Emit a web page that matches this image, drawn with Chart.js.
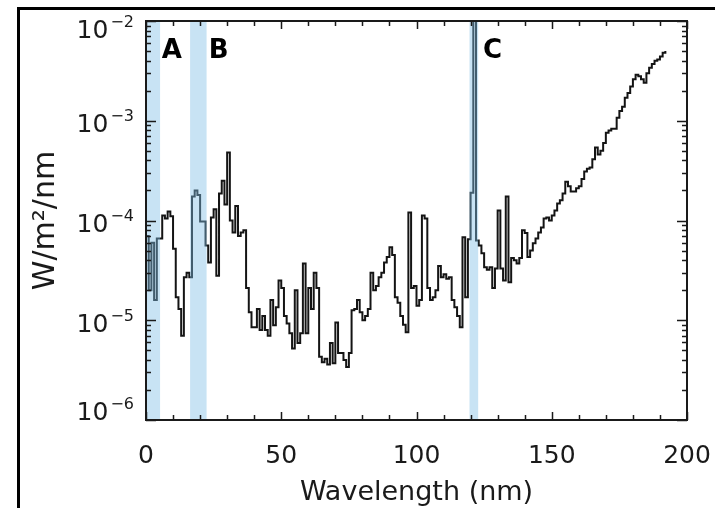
<!DOCTYPE html>
<html>
<head>
<meta charset="utf-8">
<title>Solar spectral irradiance</title>
<script src="https://cdn.jsdelivr.net/npm/chart.js@4.4.1/dist/chart.umd.min.js"></script>
<style>
  html, body { margin: 0; padding: 0; background: #fff; }
  canvas { display: block; }
</style>
</head>
<body>
<canvas id="spectrum" width="715" height="508"></canvas>
<script>
// irradiance per 1 nm bin (W/m^2/nm), bin i covers i..i+1 nm
const flux = [
  7e-5, 2e-5, 6e-5, 1.6e-5, 6.6e-5, 6.6e-5, 1.12e-4, 1.05e-4, 1.23e-4, 1.1e-4,
  5.2e-5, 1.7e-5, 1.3e-5, 7e-6, 2.7e-5, 3e-5, 2.7e-5, 1.74e-4, 2e-4, 1.8e-4,
  9.8e-5, 9.8e-5, 5.6e-5, 3.8e-5, 1.07e-4, 1.3e-4, 2.8e-5, 1.86e-4, 2.5e-4, 1.45e-4,
  4.8e-4, 1e-4, 7.6e-5, 1.4e-4, 7e-5, 7.6e-5, 8e-5, 2.1e-5, 1.2e-5, 8.5e-6,
  8.5e-6, 1.3e-5, 8e-6, 1.1e-5, 8e-6, 7e-6, 1.6e-5, 8.9e-6, 1.35e-5, 2.5e-5,
  2.1e-5, 1.1e-5, 9.3e-6, 7.4e-6, 5.2e-6, 2e-5, 5.9e-6, 7.4e-6, 3.7e-5, 7.4e-6,
  2.1e-5, 1.3e-5, 3e-5, 2.1e-5, 4.3e-6, 3.8e-6, 4.1e-6, 3.6e-6, 5.9e-6, 3.7e-6,
  9.5e-6, 4.7e-6, 4.7e-6, 4e-6, 3.4e-6, 4.7e-6, 1.26e-5, 1.3e-5, 1.6e-5, 1.2e-5,
  1e-5, 1.1e-5, 1.3e-5, 3e-5, 2e-5, 2.2e-5, 2.7e-5, 3e-5, 3.8e-5, 4.3e-5,
  5.4e-5, 4.5e-5, 1.7e-5, 1.5e-5, 1.1e-5, 9e-6, 7.6e-6, 1.2e-4, 2.1e-5, 2.2e-5,
  1.4e-5, 1.6e-5, 1.12e-4, 1.05e-4, 2.1e-5, 1.6e-5, 1.7e-5, 2e-5, 3.5e-5, 2.7e-5,
  2.9e-5, 2.6e-5, 2.7e-5, 1.6e-5, 1.35e-5, 1.1e-5, 8.5e-6, 6.8e-5, 1.7e-5, 6.5e-5,
  1.9e-4, 1e-2, 6.3e-5, 5.6e-5, 4.7e-5, 3.4e-5, 3.2e-5, 3.4e-5, 2.1e-5, 3.3e-5,
  1.26e-4, 3.3e-5, 2.5e-5, 1.74e-4, 2.4e-5, 4.2e-5, 4e-5, 3.7e-5, 4.2e-5, 8e-5,
  7.5e-5, 4.3e-5, 5e-5, 5.9e-5, 6.6e-5, 7.6e-5, 8.5e-5, 1.05e-4, 1.07e-4, 1e-4,
  1.12e-4, 1.26e-4, 1.48e-4, 1.6e-4, 1.86e-4, 2.45e-4, 2.2e-4, 1.95e-4, 1.95e-4, 2.1e-4,
  2.2e-4, 2.6e-4, 3.1e-4, 3.3e-4, 3.4e-4, 4.1e-4, 5.4e-4, 4.6e-4, 5e-4, 6e-4,
  7.6e-4, 8e-4, 8.3e-4, 8.3e-4, 1.07e-3, 1.25e-3, 1.38e-3, 1.7e-3, 1.9e-3, 2.2e-3,
  2.6e-3, 2.9e-3, 2.8e-3, 2.6e-3, 2.4e-3, 3e-3, 3.4e-3, 3.7e-3, 4e-3, 4.1e-3,
  4.4e-3, 4.8e-3, 5e-3
];
const wavelength = flux.map((v, i) => i); // bin start, nm

// shaded regions
const bandNames = ['A', 'B', 'C'];
const bandStart = [0, 16.3, 119.6];
const bandEnd = [5.2, 22.4, 122.8];
const bandLabelAt = [5.8, 23.2, 124.6];
const bandLabelFlux = 4.3e-3;

const xTicks = [0, 50, 100, 150, 200];
const yTickExp = [-6, -5, -4, -3, -2];

const FONT = '"DejaVu Sans", sans-serif';

const frame = {
  id: 'frame',
  beforeDraw(chart) {
    const ctx = chart.ctx;
    ctx.save();
    ctx.fillStyle = '#000';
    ctx.fillRect(17, 7, chart.width - 17, 3);
    ctx.fillRect(17, 7, 3, chart.height - 7);
    ctx.restore();
  },
  afterDatasetsDraw(chart) {
    const ctx = chart.ctx, x = chart.scales.x, y = chart.scales.y, a = chart.chartArea;
    ctx.save();
    ctx.fillStyle = 'rgba(128, 190, 230, 0.43)';
    bandStart.forEach((s, i) => {
      const x0 = x.getPixelForValue(s), x1 = x.getPixelForValue(bandEnd[i]);
      ctx.fillRect(x0, a.top, x1 - x0, a.bottom - a.top);
    });
    ctx.fillStyle = '#000';
    ctx.font = 'bold 26px ' + FONT;
    ctx.textAlign = 'left';
    ctx.textBaseline = 'alphabetic';
    bandNames.forEach((n, i) => {
      ctx.fillText(n, x.getPixelForValue(bandLabelAt[i]), y.getPixelForValue(bandLabelFlux));
    });
    ctx.restore();
  },
  afterDraw(chart) {
    const ctx = chart.ctx, x = chart.scales.x, y = chart.scales.y, a = chart.chartArea;
    ctx.save();
    ctx.strokeStyle = '#1a1a1a';
    ctx.lineWidth = 2;
    ctx.strokeRect(a.left, a.top, a.right - a.left, a.bottom - a.top);

    ctx.lineWidth = 1.5;
    ctx.beginPath();
    // x ticks, every 10 nm, major at 50
    for (let w = 0; w <= 200; w += 10) {
      const px = Math.round(x.getPixelForValue(w)) + 0.5;
      const len = w % 50 === 0 ? 8 : 5;
      ctx.moveTo(px, a.bottom); ctx.lineTo(px, a.bottom - len);
      ctx.moveTo(px, a.top); ctx.lineTo(px, a.top + len);
    }
    // y ticks, decades plus 2..9
    for (let e = -6; e <= -2; e++) {
      for (let m = 1; m <= 9; m++) {
        if (e === -2 && m > 1) break;
        const py = Math.round(y.getPixelForValue(m * Math.pow(10, e))) + 0.5;
        const len = m === 1 ? 10 : 5;
        ctx.moveTo(a.left, py); ctx.lineTo(a.left + len, py);
        ctx.moveTo(a.right, py); ctx.lineTo(a.right - len, py);
      }
    }
    ctx.stroke();

    ctx.fillStyle = '#1a1a1a';
    ctx.textBaseline = 'alphabetic';
    // x tick labels
    ctx.font = '25px ' + FONT;
    ctx.textAlign = 'center';
    xTicks.forEach(t => ctx.fillText(String(t), x.getPixelForValue(t), a.bottom + 43));

    // y tick labels 10^n
    yTickExp.forEach(e => {
      const py = y.getPixelForValue(Math.pow(10, e));
      const base = Math.min(Math.max(py + 2.5, a.top + 8), a.bottom - 9) + 9;
      const sup = '\u2212' + Math.abs(e);
      ctx.textAlign = 'right';
      ctx.font = '16px ' + FONT;
      const sw = ctx.measureText(sup).width;
      ctx.fillText(sup, a.left - 12, base - 11);
      ctx.font = '25px ' + FONT;
      ctx.fillText('10', a.left - 14 - sw, base);
    });

    // axis titles
    ctx.textAlign = 'center';
    ctx.font = '27px ' + FONT;
    ctx.fillText('Wavelength (nm)', (a.left + a.right) / 2, a.bottom + 80);
    ctx.save();
    ctx.translate(54, (a.top + a.bottom) / 2);
    ctx.rotate(-Math.PI / 2);
    ctx.font = '30px ' + FONT;
    ctx.fillText('W/m\u00b2/nm', 0, 0);
    ctx.restore();
    ctx.restore();
  }
};

new Chart(document.getElementById('spectrum').getContext('2d'), {
  type: 'line',
  data: {
    datasets: [{
      label: 'Irradiance',
      data: wavelength.map((w, i) => ({ x: w, y: flux[i] })),
      stepped: 'before',
      borderColor: '#141414',
      borderWidth: 2,
      borderJoinStyle: 'miter',
      pointRadius: 0,
      fill: false
    }]
  },
  options: {
    responsive: false,
    animation: false,
    layout: { padding: { left: 146, top: 21, right: 28, bottom: 88 } },
    plugins: {
      legend: { display: false },
      tooltip: { enabled: false }
    },
    scales: {
      x: { type: 'linear', min: 0, max: 200, display: false },
      y: { type: 'logarithmic', min: 1e-6, max: 1e-2, display: false }
    }
  },
  plugins: [frame]
});
</script>
</body>
</html>
